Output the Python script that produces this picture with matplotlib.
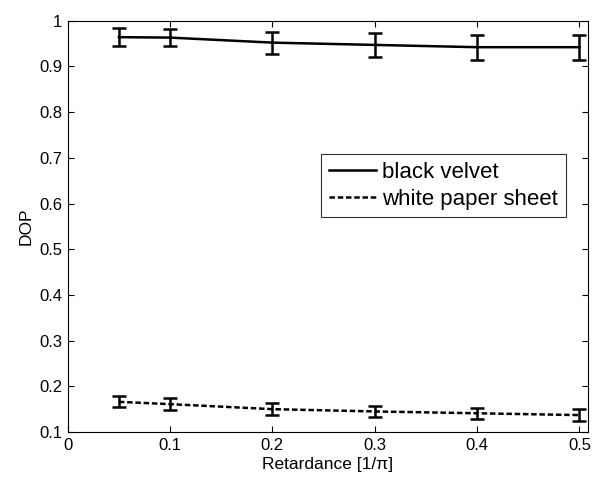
import matplotlib
matplotlib.use("Agg")
import matplotlib.pyplot as plt
from matplotlib.ticker import FuncFormatter
from matplotlib.lines import Line2D

plt.rcParams['font.family'] = ['Liberation Sans', 'DejaVu Sans']

retardance = [0.05, 0.1, 0.2, 0.3, 0.4, 0.5]
velvet = [0.964, 0.963, 0.952, 0.947, 0.942, 0.942]
velvet_err = [0.020, 0.019, 0.024, 0.026, 0.027, 0.027]
paper = [0.166, 0.161, 0.150, 0.145, 0.141, 0.137]
paper_err = [0.012, 0.013, 0.013, 0.012, 0.012, 0.013]
xticks = [0, 0.1, 0.2, 0.3, 0.4, 0.5]
yticks = [0.1, 0.2, 0.3, 0.4, 0.5, 0.6, 0.7, 0.8, 0.9, 1.0]
labels = ['black velvet', 'white paper sheet']

fig = plt.figure(figsize=(5.93, 4.79), dpi=100)
ax = fig.add_axes([0.1142, 0.0981, 0.991 - 0.1142, 0.9568 - 0.0981])

ax.errorbar(retardance, velvet, yerr=velvet_err, color='black', lw=1.8,
            elinewidth=1.8, capsize=4.7, capthick=1.8)
ax.errorbar(retardance, paper, yerr=paper_err, color='black', lw=1.8,
            dashes=(2.2, 1.1), elinewidth=1.8, capsize=4.7, capthick=1.8)

ax.set_xlim(0, 0.508)
ax.set_ylim(0.1, 1.0)
ax.set_xticks(xticks)
ax.set_yticks(yticks)
fmt = FuncFormatter(lambda v, p: ('%g' % v))
ax.xaxis.set_major_formatter(fmt)
ax.yaxis.set_major_formatter(fmt)
ax.tick_params(direction='in', top=True, right=True, length=4, width=0.8,
               labelsize=12, pad=4)
for s in ax.spines.values():
    s.set_linewidth(0.8)

ax.set_xlabel('Retardance [1/π]', fontsize=12.5, labelpad=3)
ax.set_ylabel('DOP', fontsize=12.5, labelpad=4)

handles = [Line2D([], [], color='black', lw=1.8),
           Line2D([], [], color='black', lw=1.8, dashes=(2.2, 1.1))]
leg = ax.legend(handles, labels, loc='upper right', bbox_to_anchor=(0.958, 0.675),
                fontsize=16, frameon=True, fancybox=False, edgecolor='black',
                handlelength=2.1, handletextpad=0.3, labelspacing=0.25,
                borderpad=0.35, borderaxespad=0)
leg.get_frame().set_linewidth(0.8)

fig.savefig('out.png', dpi=100)
